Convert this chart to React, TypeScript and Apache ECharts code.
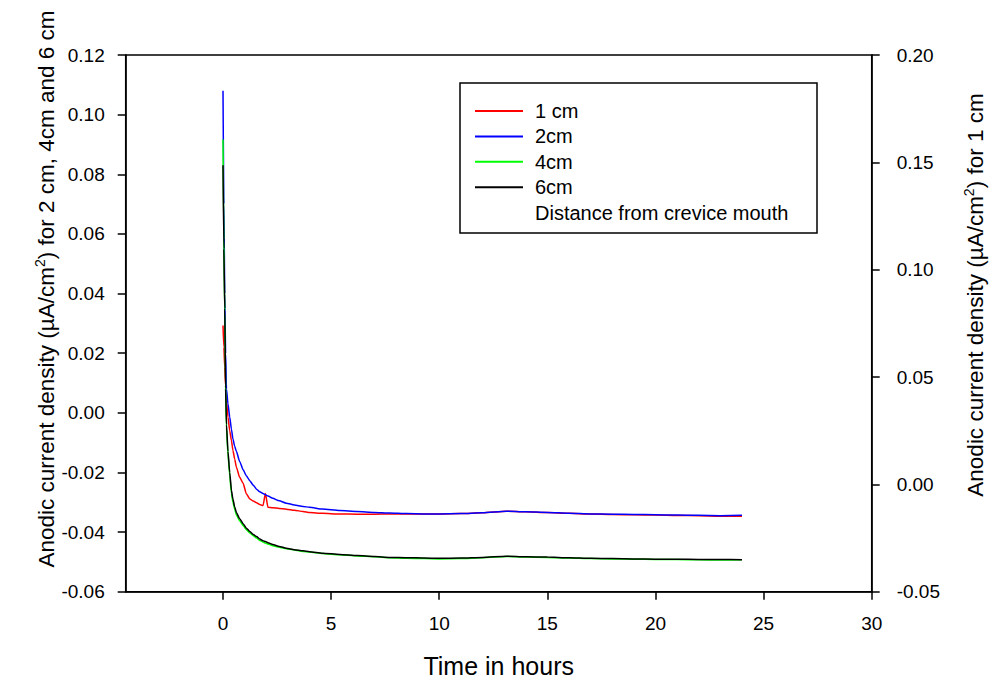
import React, { useEffect, useRef } from "react";
import * as echarts from "echarts";

const FONT = "'Liberation Sans', Arial, sans-serif";

const hours = [
  0, 0.04, 0.08, 0.12, 0.16, 0.23, 0.31, 0.39, 0.46, 0.54,
  0.62, 0.77, 0.93, 1.08, 1.24, 1.4, 1.55, 1.7, 1.85, 1.96,
  2.08, 2.3, 2.6, 2.93, 3.3, 3.7, 4.0, 4.6, 5.4, 6.2,
  7.0, 7.7, 8.5, 9.3, 10, 11, 12, 13.1, 14, 15,
  16, 17, 18, 19, 20, 21, 22, 23, 24,
];

// 1 cm — plotted on right axis
const cm1 = [
  0.074, 0.064, 0.0546, 0.046, 0.039, 0.0313, 0.025, 0.0204, 0.0158, 0.0118,
  0.008, 0.0033, 0.0005, -0.0044, -0.0068, -0.0078, -0.0086, -0.0094, -0.0099, -0.0042,
  -0.0107, -0.0109, -0.0112, -0.0116, -0.0121, -0.0126, -0.0131, -0.0135, -0.0138, -0.0139,
  -0.0139, -0.0138, -0.0138, -0.0138, -0.0138, -0.0136, -0.0132, -0.0125, -0.0128, -0.0131,
  -0.0135, -0.0138, -0.014, -0.0142, -0.0143, -0.0145, -0.0146, -0.0148, -0.0148,
];

const cm2 = [
  0.108, 0.07, 0.04, 0.02, 0.008, 0.003, -0.0014, -0.0055, -0.0088, -0.0112,
  -0.013, -0.0163, -0.0191, -0.0211, -0.0228, -0.0243, -0.0256, -0.0265, -0.0271, -0.0275,
  -0.0279, -0.0287, -0.0295, -0.0303, -0.0309, -0.0314, -0.0317, -0.0323, -0.0328, -0.0331,
  -0.0334, -0.0336, -0.0338, -0.0339, -0.0339, -0.0338, -0.0335, -0.033, -0.0332, -0.0334,
  -0.0337, -0.0339, -0.034, -0.0341, -0.0342, -0.0343, -0.0344, -0.0345, -0.0344,
];

const cm4 = [
  0.0917, 0.058, 0.034, 0.009, -0.005, -0.014, -0.021, -0.027, -0.03, -0.0323,
  -0.0343, -0.0362, -0.0378, -0.0392, -0.0403, -0.0412, -0.042, -0.0428, -0.0433, -0.0437,
  -0.044, -0.0446, -0.0451, -0.0456, -0.046, -0.0465, -0.0467, -0.0472, -0.0476, -0.048,
  -0.0483, -0.0486, -0.0488, -0.0489, -0.049, -0.0489, -0.0486, -0.0482, -0.0484, -0.0485,
  -0.0487, -0.0489, -0.049, -0.0491, -0.0492, -0.0492, -0.0493, -0.0494, -0.0493,
];

const cm6 = [
  0.083, 0.055, 0.035, 0.008, -0.004, -0.013, -0.02, -0.026, -0.029, -0.0315,
  -0.0335, -0.0355, -0.0372, -0.0387, -0.0398, -0.0408, -0.0415, -0.0423, -0.0429, -0.0432,
  -0.0436, -0.0442, -0.0448, -0.0454, -0.0459, -0.0463, -0.0466, -0.0471, -0.0475, -0.0479,
  -0.0482, -0.0485, -0.0486, -0.0487, -0.0488, -0.0487, -0.0485, -0.0481, -0.0483, -0.0484,
  -0.0486, -0.0488, -0.0489, -0.049, -0.0491, -0.0491, -0.0492, -0.0492, -0.0493,
];

const xTicks = [0, 5, 10, 15, 20, 25, 30];
const seriesNames = ["1 cm", "2cm", "4cm", "6cm"];
const seriesColors = ["#ff0000", "#0000ff", "#00ff00", "#000000"];
const seriesValues = [cm1, cm2, cm4, cm6];
const seriesAxis = [1, 0, 0, 0];

export default function App() {
  const ref = useRef<HTMLDivElement>(null);

  useEffect(() => {
    document.body.style.margin = "0";
    if (!ref.current) return;
    const chart = echarts.init(ref.current, null, { renderer: "svg" });

    const axisLine = { show: true, onZero: false, lineStyle: { color: "#000", width: 1.5 } };
    const axisTick = { show: true, inside: false, length: 8, lineStyle: { color: "#000", width: 1.5 } };
    const labelStyle = { color: "#000", fontSize: 19, fontFamily: FONT };

    const option: any = {
      animation: false,
      backgroundColor: "#fff",
      grid: {
        left: 125.7,
        right: 117.3,
        top: 55,
        bottom: 88.3,
        show: true,
        borderColor: "#000",
        borderWidth: 1.5,
        backgroundColor: "transparent",
        outerBoundsMode: "none",
        containLabel: false,
      },
      xAxis: {
        type: "value",
        min: -4.5,
        max: 30,
        axisLine,
        axisTick: { ...axisTick, customValues: xTicks },
        axisLabel: { ...labelStyle, margin: 22, customValues: xTicks, formatter: (v: number) => String(v) },
        splitLine: { show: false },
      },
      yAxis: [
        {
          type: "value",
          position: "left",
          min: -0.06,
          max: 0.12,
          interval: 0.02,
          axisLine,
          axisTick,
          axisLabel: { ...labelStyle, margin: 21, formatter: (v: number) => v.toFixed(2) },
          splitLine: { show: false },
        },
        {
          type: "value",
          position: "right",
          min: -0.05,
          max: 0.2,
          interval: 0.05,
          axisLine,
          axisTick,
          axisLabel: { ...labelStyle, margin: 25, formatter: (v: number) => v.toFixed(2) },
          splitLine: { show: false },
        },
      ],
      legend: {
        orient: "vertical",
        left: 475,
        top: 101,
        padding: 0,
        itemWidth: 48,
        itemHeight: 2,
        itemGap: 5.4,
        icon: "rect",
        selectedMode: false,
        textStyle: { color: "#000", fontSize: 20, lineHeight: 20, fontFamily: FONT, padding: [0, 0, 0, 7] },
        data: seriesNames,
      },
      series: seriesNames.map((name, k) => ({
        name,
        type: "line",
        yAxisIndex: seriesAxis[k],
        showSymbol: false,
        symbol: "none",
        smooth: 0.2,
        smoothMonotone: "x",
        color: seriesColors[k],
        itemStyle: { color: seriesColors[k] },
        lineStyle: { color: seriesColors[k], width: 1.5 },
        data: hours.map((h, i) => [h, seriesValues[k][i]]),
        z: 2 + k,
      })),
      graphic: [
        {
          type: "rect",
          shape: { x: 460, y: 83, width: 357, height: 150 },
          style: { fill: "none", stroke: "#000", lineWidth: 1.5 },
          z: 10,
        },
        {
          type: "text",
          x: 535,
          y: 212.7,
          style: {
            text: "Distance from crevice mouth",
            fill: "#000",
            fontSize: 20,
            fontFamily: FONT,
            textAlign: "left",
            textVerticalAlign: "middle",
          },
          z: 10,
        },
        {
          type: "text",
          x: 498.7,
          y: 666,
          style: {
            text: "Time in hours",
            fill: "#000",
            fontSize: 25,
            fontFamily: FONT,
            textAlign: "center",
            textVerticalAlign: "middle",
          },
        },
        {
          type: "text",
          x: 46,
          y: 289,
          rotation: Math.PI / 2,
          style: {
            text: "{m|Anodic current density (µA/cm}{s|2}{m|) for 2 cm, 4cm and 6 cm}",
            fill: "#000",
            fontFamily: FONT,
            textAlign: "center",
            textVerticalAlign: "middle",
            rich: {
              m: { fontSize: 22.5, lineHeight: 26, fontFamily: FONT, fill: "#000" },
              s: { fontSize: 14, lineHeight: 14, verticalAlign: "top", fontFamily: FONT, fill: "#000" },
            },
          },
        },
        {
          type: "text",
          x: 975,
          y: 295,
          rotation: Math.PI / 2,
          style: {
            text: "{m|Anodic current density (µA/cm}{s|2}{m|) for 1 cm}",
            fill: "#000",
            fontFamily: FONT,
            textAlign: "center",
            textVerticalAlign: "middle",
            rich: {
              m: { fontSize: 22.5, lineHeight: 26, fontFamily: FONT, fill: "#000" },
              s: { fontSize: 14, lineHeight: 14, verticalAlign: "top", fontFamily: FONT, fill: "#000" },
            },
          },
        },
      ],
    };

    chart.setOption(option);
    return () => chart.dispose();
  }, []);

  return <div ref={ref} style={{ width: 989, height: 680 }} />;
}
